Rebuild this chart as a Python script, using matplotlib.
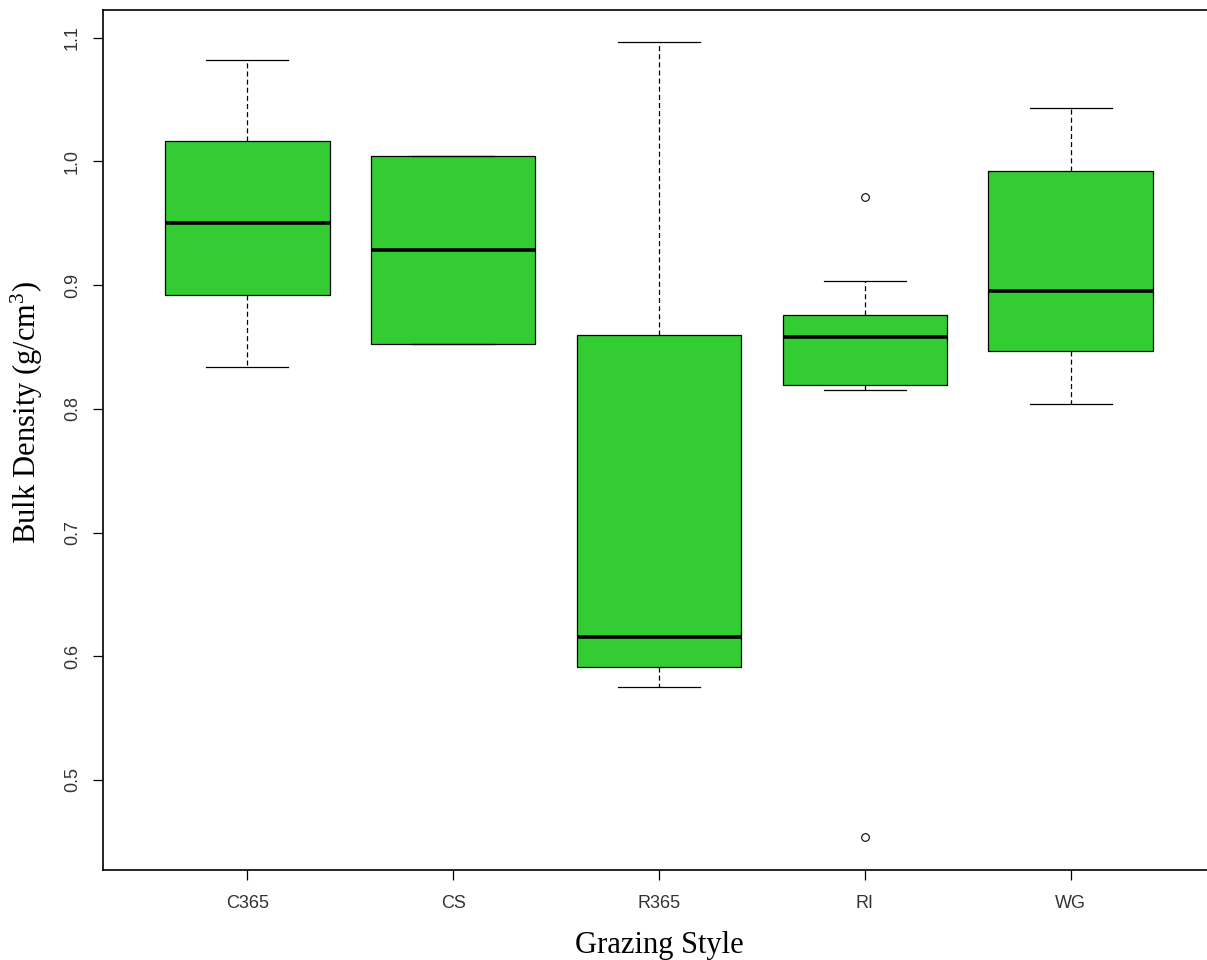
import matplotlib.pyplot as plt

# Values
styles = ['C365', 'CS', 'R365', 'RI', 'WG']
whisker_low = [0.834, 0.852, 0.575, 0.815, 0.804]
q1 = [0.892, 0.852, 0.591, 0.819, 0.8465]
medians = [0.950, 0.928, 0.6155, 0.858, 0.8955]
q3 = [1.0165, 1.004, 0.860, 0.8755, 0.9925]
whisker_high = [1.082, 1.004, 1.0965, 0.9035, 1.043]
outliers = [[], [], [], [0.971, 0.454], []]

plt.rcParams['mathtext.fontset'] = 'custom'
plt.rcParams['mathtext.rm'] = 'Liberation Serif'
plt.rcParams['mathtext.it'] = 'Liberation Serif:italic'

stats = []
for i in range(len(styles)):
    stats.append(dict(label=styles[i], whislo=whisker_low[i], q1=q1[i], med=medians[i],
                      q3=q3[i], whishi=whisker_high[i], fliers=outliers[i]))

fig = plt.figure(figsize=(12.07, 9.6), dpi=100)
# axes box: left 103px, top 10px, bottom 870px, right just past the figure edge
ax = fig.add_axes([103 / 1207, 90 / 960, 1112 / 1207, 860 / 960])

ax.bxp(stats, positions=range(1, 6), widths=0.8, patch_artist=True,
       boxprops=dict(facecolor='#33cc33', edgecolor='black', linewidth=0.9),
       medianprops=dict(color='black', linewidth=2.6, solid_capstyle='butt'),
       whiskerprops=dict(color='black', linewidth=0.9, linestyle=(0, (4, 2.5))),
       capprops=dict(color='black', linewidth=0.9),
       capwidths=0.4,
       flierprops=dict(marker='o', markerfacecolor='none', markeredgecolor='black',
                       markersize=5.5, markeredgewidth=0.8))

ax.set_xlim(0.3, 5.7)
ax.set_ylim(0.4272, 1.1224)
ax.set_yticks([0.5, 0.6, 0.7, 0.8, 0.9, 1.0, 1.1])
ax.set_yticklabels(['0.5', '0.6', '0.7', '0.8', '0.9', '1.0', '1.1'])
ax.set_xticks(range(1, 6))
ax.set_xticklabels(styles)

for lbl in ax.get_yticklabels():
    lbl.set_rotation(90)
    lbl.set_va('center')
ax.tick_params(axis='both', direction='out', length=7, width=0.9, color='black',
               labelsize=13, labelcolor='#333333')
ax.tick_params(axis='y', pad=9)
ax.tick_params(axis='x', pad=11)
for lbl in ax.get_xticklabels() + ax.get_yticklabels():
    lbl.set_fontfamily('Liberation Sans')

for side in ['top', 'bottom', 'left', 'right']:
    ax.spines[side].set_linewidth(1.2)
    ax.spines[side].set_color('black')

ax.set_xlabel('Grazing Style', fontfamily='Liberation Serif', fontsize=22, labelpad=14)
ax.set_ylabel('Bulk Density (g/cm$^3$)', fontfamily='Liberation Serif', fontsize=22)
# label sits a little above the middle of the axis in the reference
ax.yaxis.set_label_coords(-58 / 1112, (870 - 412) / 860)

fig.savefig('out.png', dpi=100, facecolor='white')
